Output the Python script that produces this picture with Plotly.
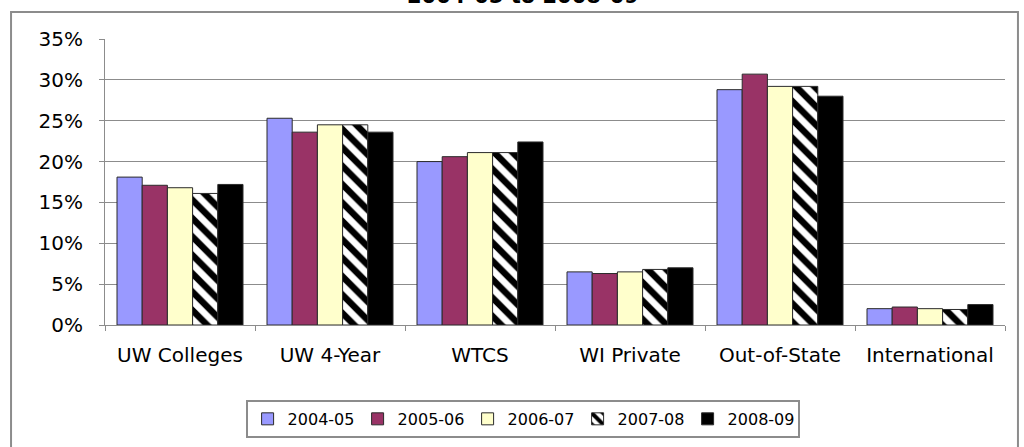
import plotly.graph_objects as go

categories = ["UW Colleges", "UW 4-Year", "WTCS", "WI Private", "Out-of-State", "International"]
years = ["2004-05", "2005-06", "2006-07", "2007-08", "2008-09"]
v2004 = [0.181, 0.253, 0.200, 0.065, 0.288, 0.020]
v2005 = [0.171, 0.236, 0.206, 0.063, 0.307, 0.022]
v2006 = [0.168, 0.245, 0.211, 0.065, 0.292, 0.020]
v2007 = [0.161, 0.245, 0.211, 0.068, 0.292, 0.019]
v2008 = [0.172, 0.236, 0.224, 0.070, 0.280, 0.025]
series = [v2004, v2005, v2006, v2007, v2008]
colors = ["#9999FF", "#993366", "#FFFFCC", "#FFFFFF", "#000000"]
y_ticks = [0, 0.05, 0.10, 0.15, 0.20, 0.25, 0.30, 0.35]
title_text = "2004-05 to 2008-09"

FONT = "DejaVu Sans, Arial, sans-serif"

fig = go.Figure()
for i, (name, vals) in enumerate(zip(years, series)):
    marker = dict(color=colors[i], line=dict(color="#2b2b2b", width=1))
    if name == "2007-08":
        marker["pattern"] = dict(shape="\\", fgcolor="#000000", bgcolor="#FFFFFF",
                                 size=13, solidity=0.5, fillmode="replace")
        marker["color"] = "#FFFFFF"
    fig.add_trace(go.Bar(name=name, x=categories, y=vals, marker=marker))

fig.update_layout(
    width=1024, height=447,
    margin=dict(l=105, r=19, t=39, b=122, autoexpand=False),
    paper_bgcolor="white", plot_bgcolor="white",
    barmode="group", bargap=0.16, bargroupgap=0,
    font=dict(family=FONT, size=20, color="#000000"),
    showlegend=True,
    legend=dict(orientation="h", x=0.464, xanchor="center", y=-0.262, yanchor="top",
                bordercolor="#8c8c8c", borderwidth=2, bgcolor="white",
                font=dict(family=FONT, size=16, color="#000000"),
                traceorder="normal", entrywidth=65, entrywidthmode="pixels",
                itemwidth=30),
    annotations=[dict(text="<b>" + title_text + "</b>", xref="paper", yref="paper",
                      x=0.4639, y=1.101, xanchor="center", yanchor="bottom",
                      showarrow=False, font=dict(family=FONT, size=21, color="#000000"))],
    shapes=[dict(type="rect", xref="paper", yref="paper", x0=-0.1044, x1=1.0144,
                 y0=-0.45, y1=1.0944, line=dict(color="#8c8c8c", width=2),
                 fillcolor="rgba(0,0,0,0)", layer="below")],
)
fig.update_yaxes(range=[0, 0.35], tickvals=y_ticks, tickformat=".0%",
                 showgrid=True, gridcolor="#8c8c8c", gridwidth=1,
                 showline=True, linecolor="#8c8c8c", linewidth=1,
                 ticks="outside", ticklen=5, tickcolor="#8c8c8c",
                 ticklabelstandoff=12, zeroline=False, automargin=False)
fig.update_xaxes(showline=True, linecolor="#8c8c8c", linewidth=1,
                 ticks="outside", ticklen=5, tickcolor="#8c8c8c",
                 tickson="boundaries", showgrid=False, ticklabelstandoff=12,
                 automargin=False)

fig.write_html("out.html", config={"displayModeBar": False},
               post_script="document.body.style.margin='0';document.body.style.padding='0';")
